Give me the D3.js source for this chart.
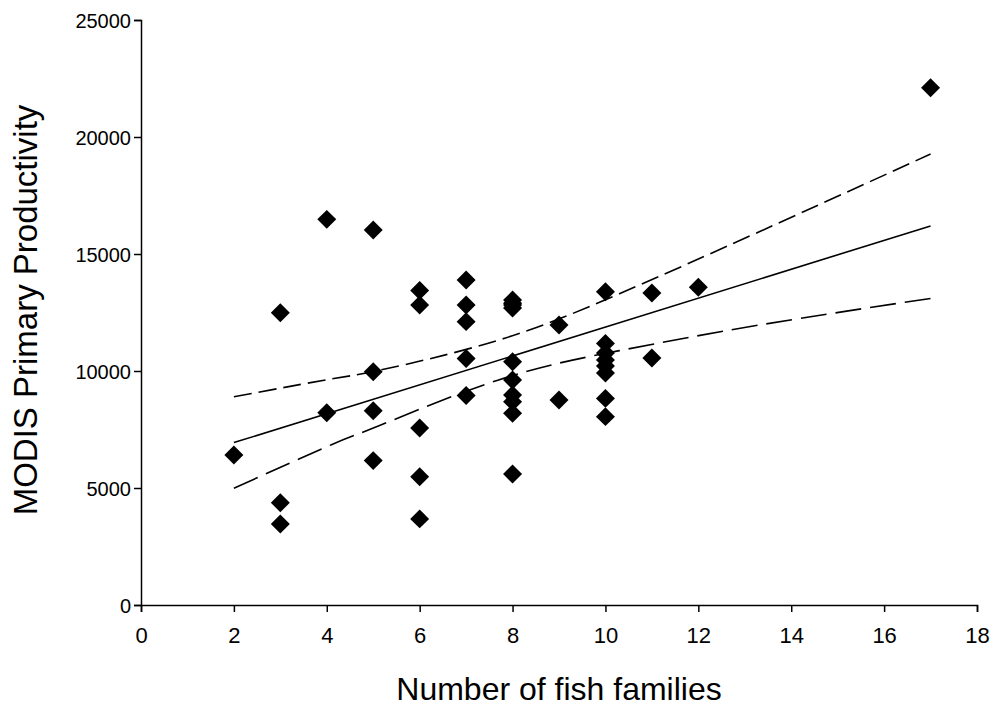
<!DOCTYPE html>
<html>
<head>
<meta charset="utf-8">
<script src="https://cdn.jsdelivr.net/npm/d3@7"></script>
<style>
  html, body { margin: 0; padding: 0; background: #fff; }
  svg { display: block; }
  text { font-family: Arial, "Liberation Sans", sans-serif; fill: #000; }
</style>
</head>
<body>
<script>
// Number of fish families per site and the MODIS primary productivity measured there
const families = [
  2,
  3, 3, 3,
  4, 4,
  5, 5, 5, 5,
  6, 6, 6, 6, 6,
  7, 7, 7, 7, 7,
  8, 8, 8, 8, 8, 8, 8, 8, 8, 8,
  9, 9,
  10, 10, 10, 10, 10, 10, 10, 10,
  11, 11,
  12,
  17
];
const productivity = [
  6410,
  12490, 4370, 3460,
  16480, 8220,
  16030, 9970, 8300, 6170,
  13440, 12820, 7560, 5480, 3680,
  13890, 12820, 12110, 10530, 8950,
  13030, 12900, 12820, 12690, 10400, 9615, 8974, 8690, 8190, 5600,
  11970, 8760,
  13390, 11180, 10770, 10470, 10210, 9915, 8830, 8050,
  13330, 10560,
  13580,
  22100
];

// Regression line and its 95% confidence limits
const fitFamilies = [2, 17];
const fitProductivity = [6940, 16200];
const bandFamilies = [2, 4.1, 5.15, 7.7, 10.3, 13.3, 17];
const bandUpper = [8900, 9660, 10040, 11320, 13300, 15940, 19270];
const bandLower = [4990, 6850, 7680, 9620, 10870, 11960, 13100];

const xTicks = [0, 2, 4, 6, 8, 10, 12, 14, 16, 18];
const yTicks = [0, 5000, 10000, 15000, 20000, 25000];
const xTitle = "Number of fish families";
const yTitle = "MODIS Primary Productivity";

const W = 995, H = 709;
const svg = d3.select("body").append("svg").attr("width", W).attr("height", H);

const x = d3.scaleLinear().domain([0, 18]).range([141, 977]);
const y = d3.scaleLinear().domain([0, 25000]).range([605, 20]);

// ---- axes ----
const xAxis = d3.axisBottom(x).tickValues(xTicks).tickSize(7).tickPadding(15).tickFormat(d3.format("d"));
const yAxis = d3.axisLeft(y).tickValues(yTicks).tickSize(7).tickPadding(3).tickFormat(d3.format("d"));

const gx = svg.append("g").attr("transform", `translate(0,${y(0)})`).call(xAxis);
const gy = svg.append("g").attr("transform", `translate(${x(0)},0)`).call(yAxis);
[gx, gy].forEach(g => {
  g.select(".domain").attr("stroke", "#000").attr("stroke-width", 1.5);
  g.selectAll(".tick line").attr("stroke", "#000").attr("stroke-width", 1.5);
  g.selectAll(".tick text").attr("fill", "#000");
});
gx.selectAll(".tick text")
  .style("font-family", "'Liberation Sans Narrow', 'Arial Narrow', Arial, sans-serif")
  .style("font-size", "22px");
gy.selectAll(".tick text")
  .style("font-family", "Arial, 'Liberation Sans', sans-serif")
  .style("font-size", "20px").attr("dy", "0.35em");

svg.append("text")
  .attr("x", 559).attr("y", 700)
  .attr("text-anchor", "middle")
  .style("font-size", "32px")
  .text(xTitle);

svg.append("text")
  .attr("transform", `translate(37,310) rotate(-90)`)
  .attr("text-anchor", "middle")
  .style("font-size", "33px")
  .text(yTitle);

// ---- fitted line and confidence limits ----
const straight = d3.line().x(d => x(d[0])).y(d => y(d[1]));
const smooth = d3.line().x(d => x(d[0])).y(d => y(d[1])).curve(d3.curveNatural);

svg.append("path")
  .attr("d", straight(d3.zip(fitFamilies, fitProductivity)))
  .attr("fill", "none").attr("stroke", "#000").attr("stroke-width", 1.6);
svg.append("path")
  .attr("d", smooth(d3.zip(bandFamilies, bandUpper)))
  .attr("fill", "none").attr("stroke", "#000").attr("stroke-width", 1.6)
  .attr("stroke-dasharray", "18,7");
svg.append("path")
  .attr("d", smooth(d3.zip(bandFamilies, bandLower)))
  .attr("fill", "none").attr("stroke", "#000").attr("stroke-width", 1.6)
  .attr("stroke-dasharray", "26,9");

// ---- observations ----
svg.append("g").selectAll("path")
  .data(d3.zip(families, productivity))
  .join("path")
  .attr("transform", d => `translate(${x(d[0])},${y(d[1])}) rotate(45)`)
  .attr("d", d3.symbol().type(d3.symbolSquare).size(180)())
  .attr("fill", "#000");
</script>
</body>
</html>
